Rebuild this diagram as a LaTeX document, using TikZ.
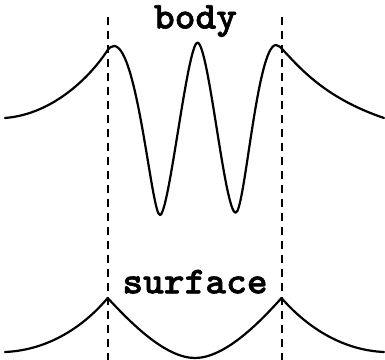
\documentclass[tikz,border=0pt]{standalone}
\usepackage{fontspec}
\newfontfamily\slabtt{lmmonolt10-bold}[Extension=.otf, FakeStretch=1.04, FakeBold=1.5]
\begin{document}
\begin{tikzpicture}[x=1bp,y=-1bp,
  curve/.style={line width=2.2bp, line join=round, line cap=round},
  guide/.style={line width=2bp, dash pattern=on 8bp off 6bp},
  lbl/.style={font=\fontsize{38bp}{42bp}\selectfont\slabtt, inner sep=0pt, anchor=base}]
\useasboundingbox (0,0) rectangle (385,360);
\coordinate (gl1) at (107.7,17);
\coordinate (gl2) at (107.7,360);
\coordinate (gr1) at (281.5,17);
\coordinate (gr2) at (281.5,360);
\draw[guide] (gl1) -- (gl2);
\draw[guide] (gr1) -- (gr2);
\node[lbl] (body) at (195.5,28.5) {body};
\node[lbl] (surface) at (195,293.3) {surface};
% body curve
\draw[curve] (5,118) .. controls (55,114) and (92,74) .. (107,51)
  .. controls (109,48) and (111,46) .. (114,46)
  .. controls (137.6,46) and (151.6,215) .. (160,215)
  .. controls (169,215) and (187.5,42.7) .. (197.5,42.7)
  .. controls (208.5,42.7) and (224.7,212.7) .. (235.7,212.7)
  .. controls (244.7,212.7) and (257,45) .. (276,45)
  .. controls (279,45) and (281,48) .. (283,50)
  .. controls (300,68) and (325,98) .. (384,118);
% surface curve
\draw[curve] (5,352) .. controls (50,350) and (85,325) .. (107.7,298)
  .. controls (130,322) and (165,358) .. (195,358)
  .. controls (225,358) and (260,322) .. (281.5,298)
  .. controls (305,325) and (340,350) .. (384,352);
\end{tikzpicture}
\end{document}
